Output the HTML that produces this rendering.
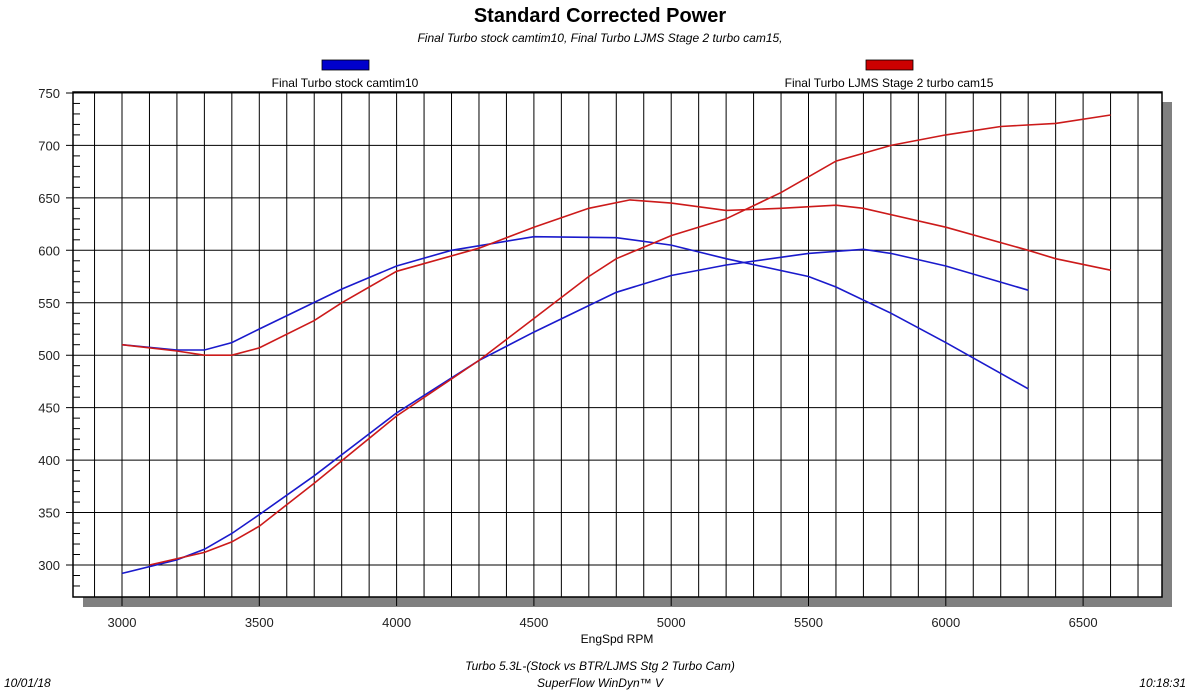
<!DOCTYPE html>
<html><head><style>
body{margin:0;background:#fff;}
svg{display:block;font-family:"Liberation Sans",Arial,sans-serif;}
</style></head><body>
<svg id="s" width="1200" height="693" viewBox="0 0 1200 693">
<rect width="1200" height="693" fill="#fff"/>
<text x="600" y="22" text-anchor="middle" font-size="20" font-weight="bold">Standard Corrected Power</text>
<text x="600" y="42" text-anchor="middle" font-size="12" font-style="italic">Final Turbo stock camtim10, Final Turbo LJMS Stage 2 turbo cam15,</text>
<rect x="322" y="60" width="47" height="10" fill="#0000cc" stroke="#000" stroke-width="0.8"/>
<rect x="866" y="60" width="47" height="10" fill="#cc0000" stroke="#000" stroke-width="0.8"/>
<text x="345" y="87" text-anchor="middle" font-size="12">Final Turbo stock camtim10</text>
<text x="889" y="87" text-anchor="middle" font-size="12">Final Turbo LJMS Stage 2 turbo cam15</text>
<rect x="83" y="102" width="1089" height="505" fill="#808080"/>
<rect x="73" y="92" width="1089" height="505" fill="#fff" stroke="#000" stroke-width="1.5"/>
<g id="grid" stroke="#000" stroke-width="1"></g>
<g id="lbl" font-size="13" fill="#222"></g>
<text x="617" y="643" text-anchor="middle" font-size="12">EngSpd RPM</text>
<text x="600" y="670" text-anchor="middle" font-size="12" font-style="italic">Turbo 5.3L-(Stock vs BTR/LJMS Stg 2 Turbo Cam)</text>
<text x="600" y="687" text-anchor="middle" font-size="12" font-style="italic">SuperFlow WinDyn™ V</text>
<text x="4" y="687" font-size="12" font-style="italic">10/01/18</text>
<text x="1186" y="687" text-anchor="end" font-size="12" font-style="italic">10:18:31</text>
<g id="lines" fill="none" stroke-width="1.6"></g>
</svg>
<script>
const X=r=>122+(r-3000)*0.2746, Y=v=>565-(v-300)*1.049;
const ns="http://www.w3.org/2000/svg";
function el(p,t,a,txt){const e=document.createElementNS(ns,t);for(const k in a)e.setAttribute(k,a[k]);if(txt)e.textContent=txt;document.getElementById(p).appendChild(e);}
for(let r=2900;r<=6700;r+=100){el("grid","line",{x1:X(r),x2:X(r),y1:92,y2:r%500==0?606:597});}
for(let v=300;v<=750;v+=50){el("grid","line",{x1:66,x2:1162,y1:Y(v),y2:Y(v)});el("lbl","text",{x:60,y:Y(v)+5,"text-anchor":"end"},v);}
for(let v=280;v<=750;v+=10){if(v%50)el("grid","line",{x1:73,x2:80,y1:Y(v),y2:Y(v)});}
for(let r=3000;r<=6500;r+=500)el("lbl","text",{x:X(r),y:627,"text-anchor":"middle"},r);
const S=[
["#1a1acc",[[3000,510],[3200,505],[3300,505],[3400,512],[3500,525],[3800,563],[4000,585],[4200,600],[4500,613],[4800,612],[5000,605],[5200,592],[5500,575],[5600,565],[5800,540],[6000,512],[6300,468]]],
["#1a1acc",[[3000,292],[3200,305],[3300,315],[3400,330],[3500,348],[3700,385],[4000,445],[4300,495],[4500,522],[4800,560],[5000,576],[5200,586],[5500,597],[5700,601],[5800,597],[6000,585],[6300,562]]],
["#cc1a1a",[[3000,510],[3200,504],[3300,500],[3400,500],[3500,507],[3700,533],[3800,550],[4000,580],[4300,602],[4500,622],[4700,640],[4850,648],[5000,645],[5200,638],[5400,640],[5600,643],[5700,640],[6000,622],[6300,600],[6400,592],[6600,581]]],
["#cc1a1a",[[3100,300],[3300,312],[3400,322],[3500,337],[3700,378],[4000,442],[4300,495],[4500,535],[4700,575],[4800,592],[5000,614],[5200,630],[5400,655],[5600,685],[5800,700],[6000,710],[6200,718],[6400,721],[6600,729]]]];
for(const [c,p] of S)el("lines","polyline",{stroke:c,points:p.map(q=>X(q[0]).toFixed(1)+","+Y(q[1]).toFixed(1)).join(" ")});
</script>
</body></html>
